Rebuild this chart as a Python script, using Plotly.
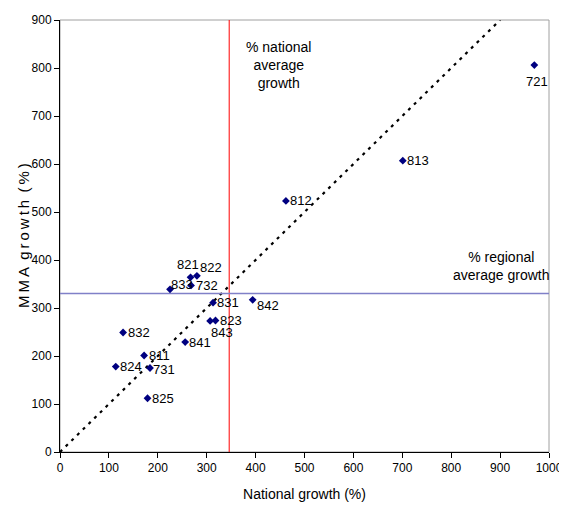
import plotly.graph_objects as go

codes = ["721", "813", "812", "821", "822", "833", "732", "831", "842", "823", "843",
         "832", "841", "811", "824", "731", "825"]
national = [970, 701, 462, 267, 280, 225, 268, 313, 394, 318, 307, 129, 256, 172, 114, 184, 179]
mma = [806, 607, 523, 364, 367, 339, 347, 311, 317, 274, 273, 249, 229, 201, 178, 175, 112]

# label offsets in pixels (right, down) relative to each point
label_dx = [3, 15, 15, -3, 14, 12, 16, 15, 15, 15, 12, 16, 15, 15, 15, 14, 15]
label_dy = [16, 0, 0, -13, -8, -5, 0, 0, 6, 0, 12, 0, 0, 0, 0, 1, 0]

diag_x = [0, 900]
diag_y = [0, 900]
nat_avg = 346
reg_avg = 330
x_ticks = [0, 100, 200, 300, 400, 500, 600, 700, 800, 900, 1000]
y_ticks = [0, 100, 200, 300, 400, 500, 600, 700, 800, 900]

FONT = "Liberation Sans, Arial, sans-serif"

fig = go.Figure()
fig.add_trace(go.Scatter(x=diag_x, y=diag_y, mode="lines",
                         line=dict(color="black", width=2.2, dash="3px,5px"),
                         hoverinfo="skip", showlegend=False))
fig.add_trace(go.Scatter(x=[nat_avg, nat_avg], y=[0, 900], mode="lines",
                         line=dict(color="#FF0000", width=1),
                         hoverinfo="skip", showlegend=False))
fig.add_trace(go.Scatter(x=[0, 1000], y=[reg_avg, reg_avg], mode="lines",
                         line=dict(color="#8080C8", width=1.5),
                         hoverinfo="skip", showlegend=False))
fig.add_trace(go.Scatter(x=national, y=mma, mode="markers",
                         marker=dict(symbol="diamond", size=6, color="#000080"),
                         showlegend=False))

for c, xv, yv, dx, dy in zip(codes, national, mma, label_dx, label_dy):
    fig.add_annotation(x=xv, y=yv, xref="x", yref="y", text=c, showarrow=False,
                       xanchor="center", yanchor="middle", xshift=dx, yshift=-dy,
                       font=dict(family=FONT, size=13, color="black"))

fig.add_annotation(x=446, y=806, xref="x", yref="y", showarrow=False,
                   text="% national<br>average<br>growth", align="center",
                   font=dict(family=FONT, size=14, color="black"))
fig.add_annotation(x=903, y=388, xref="x", yref="y", showarrow=False,
                   text="% regional<br>average growth", align="center",
                   font=dict(family=FONT, size=14, color="black"))

fig.add_annotation(x=0, y=0.5, xref="paper", yref="paper", xshift=-37, showarrow=False,
                   textangle=-90, xanchor="center", yanchor="middle",
                   text="M\u2009M\u2009A\u2009 g\u2009r\u2009o\u2009w\u2009t\u2009h\u2009 (\u2009%\u2009)",
                   font=dict(family=FONT, size=15, color="black"))

fig.add_shape(type="rect", xref="paper", yref="paper", x0=0, y0=0, x1=1, y1=1,
              line=dict(color="#A0A0A0", width=1), layer="below")

fig.update_layout(
    width=559, height=513,
    margin=dict(l=52, r=18, t=12, b=69),
    paper_bgcolor="white", plot_bgcolor="white",
    font=dict(family=FONT, size=12, color="black"),
    xaxis=dict(range=[0, 1000], tickvals=x_ticks, ticks="outside", ticklen=5,
               tickcolor="black", showline=True, linecolor="black", linewidth=1,
               showgrid=False, zeroline=False, automargin=False,
               tickfont=dict(family=FONT, size=12),
               title=dict(text="National growth (%)", font=dict(family=FONT, size=14),
                          standoff=14)),
    yaxis=dict(range=[0, 900], tickvals=y_ticks, ticks="outside", ticklen=5,
               tickcolor="black", showline=True, linecolor="black", linewidth=1,
               showgrid=False, zeroline=False, automargin=False,
               tickfont=dict(family=FONT, size=12)),
)

fig.write_html("out.html")
